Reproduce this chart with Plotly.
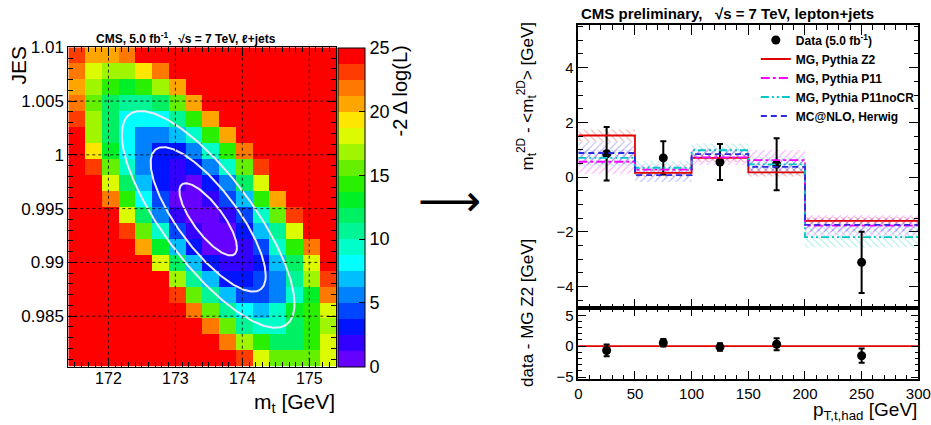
import numpy as np
import plotly.graph_objects as go

# ================= left panel: 2D likelihood scan =================
mt_range = [171.4, 175.4]          # GeV, 16 bins
jes_range = [0.9803, 1.01]         # 20 bins
n_mt_bins = 16
n_jes_bins = 20
# -2 Delta log(L) per cell; rows from top (high JES) to bottom, columns low -> high m_t
nll_rows = [
    [23.1, 20.6, 20.6, 21.9] + [25] * 12,
    [21.9, 18.1, 16.9, 16.9, 19.4, 21.9] + [25] * 10,
    [20.6, 16.9, 14.4, 13.1, 14.4, 16.9, 20.6] + [25] * 9,
    [21.9, 15.6, 11.9, 10.6, 10.6, 11.9, 15.6, 20.6] + [25] * 8,
    [23.1, 16.9, 11.9, 8.1, 8.1, 8.1, 10.6, 14.4, 20.6] + [25] * 7,
    [25, 16.9, 11.9, 8.1, 5.6, 5.6, 6.9, 9.4, 14.4, 20.6] + [25] * 6,
    [25, 19.4, 13.1, 8.1, 5.6, 3.1, 3.1, 5.6, 9.4, 14.4, 21.9] + [25] * 5,
    [25, 23.1, 15.6, 9.4, 5.6, 3.1, 1.9, 3.1, 5.6, 9.4, 15.6, 23.1] + [25] * 4,
    [25, 25, 18.1, 11.9, 6.9, 3.1, 1.9, 0.6, 3.1, 5.6, 11.9, 18.1] + [25] * 4,
    [25, 25, 21.9, 14.4, 8.1, 4.4, 0.6, 0.6, 1.9, 4.4, 6.9, 14.4, 20.6, 25, 25, 25],
    [25, 25, 25, 18.1, 11.9, 5.6, 1.9, 0.6, 0.6, 1.9, 4.4, 9.4, 15.6, 23.1, 25, 25],
    [25, 25, 25, 23.1, 15.6, 9.4, 4.4, 1.9, 0.6, 0.6, 3.1, 6.9, 10.6, 18.1, 25, 25],
    [25, 25, 25, 25, 20.6, 13.1, 6.9, 3.1, 0.6, 0.6, 1.9, 4.4, 9.4, 14.4, 21.9, 25],
    [25] * 5 + [18.1, 11.9, 6.9, 3.1, 1.9, 1.9, 3.1, 6.9, 11.9, 18.1, 25],
    [25] * 6 + [16.9, 10.6, 6.9, 3.1, 3.1, 4.4, 5.6, 10.6, 16.9, 23.1],
    [25] * 6 + [23.1, 15.6, 10.6, 6.9, 4.4, 4.4, 5.6, 9.4, 13.1, 21.9],
    [25] * 7 + [21.9, 15.6, 10.6, 8.1, 6.9, 9.4, 13.1, 14.4, 18.1],
    [25] * 8 + [21.9, 15.6, 10.6, 9.4, 9.4, 11.9, 14.4, 16.9],
    [25] * 9 + [21.9, 16.9, 14.4, 11.9, 11.9, 14.4, 18.1],
    [25] * 10 + [23.1, 18.1, 15.6, 15.6, 15.6, 18.1],
]
# fitted minimum and uncertainties (for the 1/2/3 sigma contours)
fit_mt = 173.49
fit_jes = 0.9940
sigma_mt = 0.43
sigma_jes = 0.00336
rho = -0.78
contour_nsigma = [1, 2, 3]

mt_ticks = [172, 173, 174, 175]
jes_ticks = [0.985, 0.99, 0.995, 1.0, 1.005, 1.01]
jes_ticklabels = ["0.985", "0.99", "0.995", "1", "1.005", "1.01"]
cbar_ticks = [0, 5, 10, 15, 20, 25]
palette = ["#6600ff", "#3300ff", "#0014ff", "#0046ff", "#0082ff", "#00beff",
           "#00ffff", "#00ffc8", "#00f596", "#00f064", "#00f028", "#28f000",
           "#64f000", "#a0f500", "#dcfa00", "#ffe600", "#ffa500", "#ff7800",
           "#ff3c00", "#ff0000"]

# ================= right panel: m_t^2D vs pT =================
bin_edges = [0, 50, 100, 150, 200, 300]
bin_centers = [25, 75, 125, 175, 250]
data_vals = [0.85, 0.70, 0.55, 0.47, -3.12]
data_errs = [0.98, 0.61, 0.66, 0.95, 1.12]
z2_vals = [1.52, 0.15, 0.70, 0.17, -1.60]
z2_errs = [0.22, 0.15, 0.15, 0.15, 0.15]
p11_vals = [0.56, 0.27, 0.72, 0.62, -1.78]
p11_errs = [0.45, 0.20, 0.28, 0.37, 0.38]
nocr_vals = [0.70, 0.34, 0.98, 0.46, -2.20]
nocr_errs = [0.30, 0.25, 0.25, 0.30, 0.38]
hw_vals = [0.88, 0.07, 0.84, 0.37, -1.75]
hw_errs = [0.42, 0.25, 0.20, 0.30, 0.25]
diff_vals = [-0.70, 0.55, -0.15, 0.30, -1.55]
diff_errs = [0.95, 0.60, 0.60, 0.98, 1.15]
ref_level = 0

FONT = "Liberation Sans, Arial, Helvetica, sans-serif"
fig = go.Figure()

# ---- heatmap ----
mt_edges = np.linspace(mt_range[0], mt_range[1], n_mt_bins + 1)
jes_edges = np.linspace(jes_range[0], jes_range[1], n_jes_bins + 1)
z = np.array(nll_rows[::-1])
cs = []
n = len(palette)
for i, c in enumerate(palette):
    cs.append([i / n, c])
    cs.append([(i + 1) / n, c])

fig.add_trace(go.Heatmap(
    x=mt_edges, y=jes_edges, z=z, zmin=0, zmax=25, colorscale=cs,
    xaxis="x", yaxis="y", hoverinfo="skip",
    colorbar=dict(x=338 / 931, xanchor="left", xref="paper", y=1 - 366.7 / 425, yanchor="bottom",
                  len=(366.7 - 47.3) / 425, lenmode="fraction", thickness=27,
                  outlinewidth=1, outlinecolor="black", tickvals=cbar_ticks,
                  ticks="inside", ticklen=6, tickcolor="black",
                  tickfont=dict(family=FONT, size=18, color="black"), xpad=0, ypad=0),
))

t = np.linspace(0, 2 * np.pi, 300)
for k in contour_nsigma:
    ex = fit_mt + k * sigma_mt * np.cos(t)
    ey = fit_jes + k * sigma_jes * (rho * np.cos(t) + np.sqrt(1 - rho ** 2) * np.sin(t))
    fig.add_trace(go.Scatter(x=ex, y=ey, mode="lines", xaxis="x", yaxis="y",
                             line=dict(color="rgb(235,235,255)", width=2),
                             showlegend=False, hoverinfo="skip"))

# ---- right: bands ----
widths = np.diff(bin_edges)
mc = [
    ("MG, Pythia Z2", z2_vals, z2_errs, "#e00000", "solid", "\\"),
    ("MG, Pythia P11", p11_vals, p11_errs, "#ff00ff", "dashdot", "/"),
    ("MG, Pythia P11noCR", nocr_vals, nocr_errs, "#00c8c8", "8px,3px,2px,3px,2px,3px", "\\"),
    ("MC@NLO, Herwig", hw_vals, hw_errs, "#2a2ae0", "6px,4px", "/"),
]
for name, vals, errs, col, dash, shp in mc:
    v = np.array(vals); e = np.array(errs)
    fig.add_trace(go.Bar(
        x=bin_centers, y=2 * e, base=v - e, width=widths, xaxis="x2", yaxis="y2",
        marker=dict(color="rgba(0,0,0,0)", line=dict(width=0),
                    pattern=dict(shape=shp, fgcolor=col, size=5, solidity=0.2, fgopacity=0.35)),
        showlegend=False, hoverinfo="skip"))

# data (legend first)
fig.add_trace(go.Scatter(
    x=bin_centers, y=data_vals, mode="markers", name="Data (5.0 fb<sup>-1</sup>)",
    xaxis="x2", yaxis="y2",
    marker=dict(color="black", size=9),
    error_y=dict(type="data", array=data_errs, color="black", thickness=2, width=3)))

for name, vals, errs, col, dash, shp in mc:
    fig.add_trace(go.Scatter(
        x=bin_edges, y=list(vals) + [vals[-1]], mode="lines", line_shape="hv",
        name=name, xaxis="x2", yaxis="y2",
        line=dict(color=col, width=1.8, dash=dash)))

fig.add_trace(go.Scatter(
    x=bin_centers, y=diff_vals, mode="markers", xaxis="x3", yaxis="y3", showlegend=False,
    marker=dict(color="black", size=9),
    error_y=dict(type="data", array=diff_errs, color="black", thickness=2, width=3)))

# ---- axes ----
def ax_common(**kw):
    d = dict(showgrid=False, zeroline=False, showline=True, linecolor="black",
             ticks="inside", tickcolor="black", mirror="allticks", automargin=False,
             tickfont=dict(family=FONT, size=17, color="black"))
    d.update(kw)
    return d

x_l = (68.3 / 931, 336 / 931)
y_l = (1 - 366.7 / 425, 1 - 47.3 / 425)
x_r = (578.3 / 931, 918.3 / 931)
y_up = (1 - 308.3 / 425, 1 - 25 / 425)
y_lo = (1 - 379 / 425, 1 - 308.3 / 425)

fig.update_layout(
    width=931, height=425, margin=dict(l=0, r=0, t=0, b=0, pad=0, autoexpand=False),
    paper_bgcolor="white", plot_bgcolor="white", barmode="overlay",
    font=dict(family=FONT, color="black"),
    xaxis=ax_common(domain=x_l, anchor="y", range=mt_range, tickvals=mt_ticks,
                    ticklen=9, linewidth=1, ticklabelstandoff=-3,
                    tickfont=dict(family=FONT, size=16, color="black"),
                    minor=dict(dtick=0.1, tick0=171, ticklen=5, ticks="inside", tickcolor="black")),
    yaxis=ax_common(domain=y_l, anchor="x", range=jes_range, tickvals=jes_ticks,
                    ticktext=jes_ticklabels, ticklen=9, linewidth=1,
                    minor=dict(dtick=0.001, tick0=0.98, ticklen=5, ticks="inside", tickcolor="black")),
    xaxis2=ax_common(domain=x_r, anchor="y2", range=[0, 300], dtick=50, tick0=0,
                     showticklabels=False, ticklen=10, linewidth=1.6,
                     minor=dict(dtick=10, ticklen=5, ticks="inside", tickcolor="black")),
    yaxis2=ax_common(domain=y_up, anchor="x2", range=[-4.8, 5.56], tickvals=[-4, -2, 0, 2, 4],
                     ticklen=10, linewidth=1.6, tickfont=dict(family=FONT, size=15, color="black"),
                     minor=dict(dtick=0.5, tick0=0, ticklen=5, ticks="inside", tickcolor="black")),
    xaxis3=ax_common(domain=x_r, anchor="y3", range=[0, 300], dtick=50, tick0=0,
                     ticklen=8, linewidth=1.6, tickfont=dict(family=FONT, size=15, color="black"),
                     minor=dict(dtick=10, ticklen=4, ticks="inside", tickcolor="black")),
    yaxis3=ax_common(domain=y_lo, anchor="x3", range=[-5.32, 6.13], tickvals=[-5, 0, 5],
                     ticklen=8, linewidth=1.6, tickfont=dict(family=FONT, size=15, color="black"),
                     minor=dict(dtick=1, tick0=0, ticklen=4, ticks="inside", tickcolor="black")),
    legend=dict(x=0.988, y=0.94, xanchor="right", yanchor="top", bgcolor="rgba(0,0,0,0)",
                font=dict(family=FONT, size=12, color="black", weight="bold"),
                itemwidth=30, tracegroupgap=0),
)

shapes = []
for v in mt_ticks:
    shapes.append(dict(type="line", xref="x", yref="y domain", x0=v, x1=v, y0=0, y1=1,
                       line=dict(color="black", width=0.8, dash="dot"), layer="above"))
for v in jes_ticks[:-1]:
    shapes.append(dict(type="line", xref="x domain", yref="y", x0=0, x1=1, y0=v, y1=v,
                       line=dict(color="black", width=0.8, dash="dot"), layer="above"))
shapes.append(dict(type="line", xref="x3 domain", yref="y3", x0=0, x1=1, y0=ref_level, y1=ref_level,
                   line=dict(color="#e00000", width=1.6), layer="below"))
fig.update_layout(shapes=shapes)

ann = [
    dict(text="<b>CMS, 5.0 fb<sup>-1</sup>,  √s = 7 TeV, ℓ+jets</b>", x=186 / 931, y=1 - 38 / 425,
         xanchor="center", yanchor="middle", font=dict(size=12)),
    dict(text="JES", x=18 / 931, y=1 - 44 / 425, xanchor="center", yanchor="top", textangle=-90,
         font=dict(size=21)),
    dict(text="m<sub>t</sub> [GeV]", x=337 / 931, xanchor="right", y=1 - 403 / 425, yanchor="middle",
         font=dict(size=21)),
    dict(text="-2 Δ log(L)", x=399 / 931, y=1 - 44 / 425, xanchor="center", yanchor="top",
         textangle=-90, font=dict(size=20)),
    dict(text="⟶", x=449 / 931, y=1 - 200 / 425, xanchor="center", yanchor="middle",
         font=dict(size=44, family="DejaVu Sans")),
    dict(text="<b>CMS preliminary,   √s = 7 TeV, lepton+jets</b>", x=727 / 931, y=1 - 13 / 425,
         xanchor="center", yanchor="middle", font=dict(size=15)),
    dict(text="m<sub>t</sub><sup>2D</sup> - &lt;m<sub>t</sub><sup>2D</sup>&gt; [GeV]",
         x=527 / 931, y=1 - 20 / 425, xanchor="center", yanchor="top", textangle=-90,
         font=dict(size=17)),
    dict(text="data - MG Z2 [GeV]", x=527 / 931, y=1 - 237 / 425, xanchor="center", yanchor="top",
         textangle=-90, font=dict(size=17)),
    dict(text="p<sub>T,t,had</sub> [GeV]", x=919 / 931, xanchor="right", y=1 - 411 / 425,
         yanchor="middle", font=dict(size=19)),
]
for a in ann:
    a.setdefault("xref", "paper"); a.setdefault("yref", "paper")
    a.setdefault("showarrow", False)
    a["font"].setdefault("family", FONT); a["font"].setdefault("color", "black")
fig.update_layout(annotations=ann)

fig.write_html("out.html", config={"displayModeBar": False},
               post_script="document.body.style.margin='0';document.body.style.padding='0';")
